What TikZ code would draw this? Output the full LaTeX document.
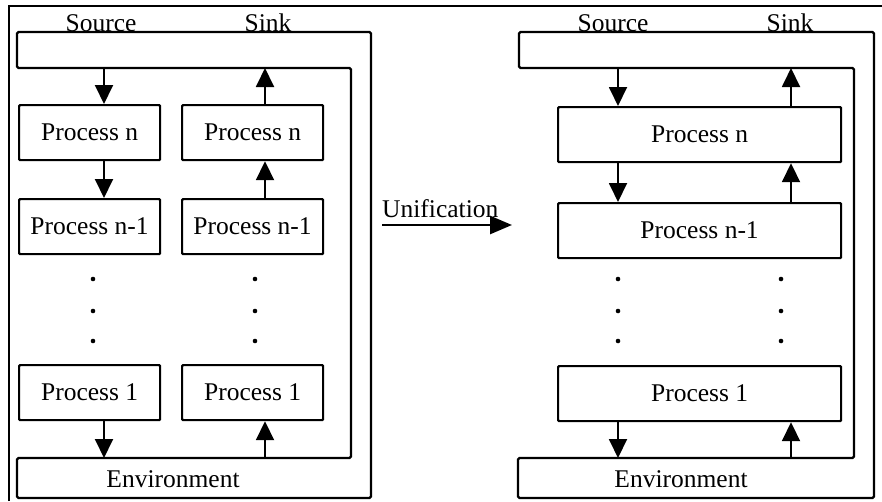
\documentclass[tikz,border=0pt]{standalone}
\usepackage{fontspec}
\setmainfont{Liberation Serif}
\usetikzlibrary{arrows.meta}

\tikzset{
  proc/.style={draw, line width=2.2pt, rounded corners=1pt, minimum height=55pt,
    inner sep=0pt, font=\fontsize{25.5}{30}\selectfont, anchor=north west},
  lbl/.style={font=\fontsize{25.5}{30}\selectfont, inner sep=0pt},
  envline/.style={line width=2.2pt, rounded corners=1.5pt},
  flow/.style={line width=1.9pt, -{Triangle[length=19pt, width=18pt]}},
  dotmark/.style={fill=black},
}

\begin{document}
\begin{tikzpicture}[x=1pt, y=-1pt]
\useasboundingbox (0,0) rectangle (882,501);

% frame edges
\draw[line width=1.6pt] (9,501) -- (9,6) -- (882,6);

% ---------------- separate pipelines ----------------
\draw[envline] (17,32) -- (371,32) -- (371,498) -- (17,498) -- (17,458)
  -- (351,458) -- (351,68) -- (17,68) -- cycle;

\node[lbl, anchor=base] (srcA) at (101,31) {Source};
\node[lbl, anchor=base] (snkA) at (268,31) {Sink};
\node[lbl, anchor=base] (envA) at (173,487) {Environment};

\coordinate (inA) at (104,68);
\coordinate (outA) at (265,68);
\coordinate (envinA) at (104,458);
\coordinate (envoutA) at (265,458);

\node[proc, minimum width=141pt] (aN)  at (18,104) {Process n};
\node[proc, minimum width=141pt] (aN1) at (18,198) {Process n-1};
\node[proc, minimum width=141pt] (a1)  at (18,364) {Process 1};
\node[proc, minimum width=141pt] (bN)  at (181,104) {Process n};
\node[proc, minimum width=141pt] (bN1) at (181,198) {Process n-1};
\node[proc, minimum width=141pt] (b1)  at (181,364) {Process 1};

\draw[flow] (inA) -- (inA |- aN.north);
\draw[flow] (inA |- aN.south) -- (inA |- aN1.north);
\draw[flow] (inA |- a1.south) -- (envinA);
\draw[flow] (envoutA) -- (outA |- b1.south);
\draw[flow] (outA |- bN1.north) -- (outA |- bN.south);
\draw[flow] (outA |- bN.north) -- (outA);

\foreach \yy in {279,311,341} {
  \fill[dotmark] (93,\yy) circle (2.3pt);
  \fill[dotmark] (255,\yy) circle (2.3pt);
}

% ---------------- unification ----------------
\node[lbl, anchor=base west] (uni) at (382,217) {Unification};
\coordinate (uniA) at (382,225);
\coordinate (uniB) at (512,225);
\draw[line width=2.6pt, -{Triangle[length=22pt, width=18pt]}] (uniA) -- (uniB);

% ---------------- unified pipeline ----------------
\draw[envline] (519,32) -- (874,32) -- (874,498) -- (518,498) -- (518,458)
  -- (854,458) -- (854,68) -- (519,68) -- cycle;

\node[lbl, anchor=base] (srcB) at (613,31) {Source};
\node[lbl, anchor=base] (snkB) at (790,31) {Sink};
\node[lbl, anchor=base] (envB) at (681,487) {Environment};

\coordinate (inB) at (618,68);
\coordinate (outB) at (791,68);
\coordinate (envinB) at (618,458);
\coordinate (envoutB) at (791,458);

\node[proc, minimum width=283pt] (cN)  at (557,106) {Process n};
\node[proc, minimum width=283pt] (cN1) at (557,202) {Process n-1};
\node[proc, minimum width=283pt] (c1)  at (557,365) {Process 1};

\draw[flow] (inB) -- (inB |- cN.north);
\draw[flow] (inB |- cN.south) -- (inB |- cN1.north);
\draw[flow] (inB |- c1.south) -- (envinB);
\draw[flow] (envoutB) -- (outB |- c1.south);
\draw[flow] (outB |- cN1.north) -- (outB |- cN.south);
\draw[flow] (outB |- cN.north) -- (outB);

\foreach \yy in {279,311,341} {
  \fill[dotmark] (618,\yy) circle (2.3pt);
  \fill[dotmark] (781,\yy) circle (2.3pt);
}
\end{tikzpicture}
\end{document}
